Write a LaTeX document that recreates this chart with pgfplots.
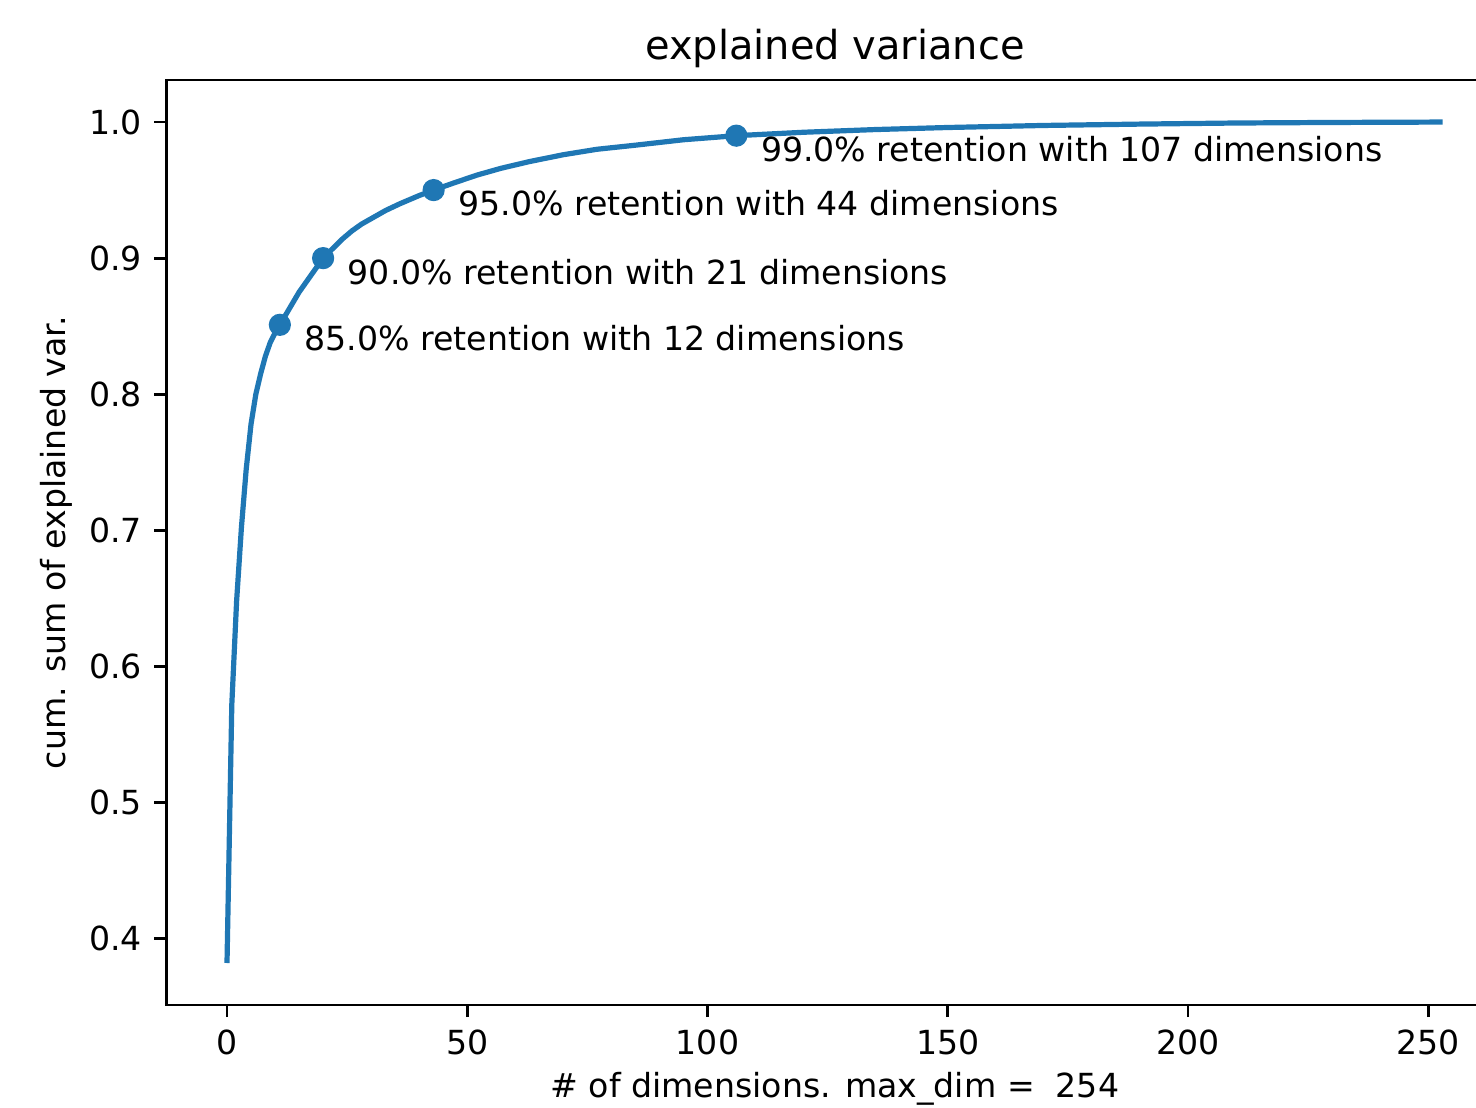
\documentclass[border=0pt]{standalone}
\usepackage{fontspec}
\setmainfont{DejaVu Sans}
\usepackage{pgfplots}
\pgfplotsset{compat=1.18}
\definecolor{mplblue}{HTML}{1F77B4}

\begin{document}
\begin{tikzpicture}
\begin{axis}[
    scale only axis,
    width=385.1pt, height=266.4pt,
    xmin=-12.65, xmax=265.65,
    ymin=0.3511, ymax=1.0309,
    xtick={0,50,100,150,200,250},
    ytick={0.4,0.5,0.6,0.7,0.8,0.9,1.0},
    yticklabel={\pgfmathprintnumber[fixed,fixed zerofill,precision=1]{\tick}},
    /pgf/number format/assume math mode=true,
    tick align=outside, tick pos=left,
    major tick length=3.5pt,
    every tick/.style={black, line width=0.8pt},
    axis line style={line width=0.8pt},
    ticklabel style={font=\fontsize{9.55}{11}\selectfont},
    title={explained variance},
    every axis title shift=0pt,
    title style={at={(axis description cs:0.5,1)}, anchor=base, yshift=6pt,
                 font=\fontsize{11.5}{13}\selectfont},
    xlabel={\# of dimensions. max\_dim = \ 254},
    xlabel style={at={(axis description cs:0.5,0)}, anchor=center, yshift=-24pt,
                  font=\fontsize{9.55}{11}\selectfont},
    ylabel={cum. sum of explained var.},
    ylabel style={at={(axis description cs:0,0.5)}, anchor=center, rotate=0,
                  yshift=31.5pt, font=\fontsize{9.55}{11}\selectfont},
]
% cumulative explained variance
\addplot[mplblue, line width=1.5pt] coordinates {
    (0,0.382) (1,0.572) (2,0.648) (3,0.702) (4,0.745) (5,0.778)
    (6,0.800) (7,0.815) (8,0.828) (9,0.838) (10,0.845) (11,0.851)
    (12,0.857) (13,0.863) (14,0.869) (15,0.875) (16,0.880) (17,0.885)
    (18,0.890) (19,0.895) (20,0.900) (22,0.907) (24,0.914) (26,0.920)
    (28,0.925) (30,0.929) (33,0.935) (36,0.940) (40,0.946) (43,0.950)
    (47,0.955) (52,0.961) (57,0.966) (63,0.971) (70,0.976) (77,0.980)
    (85,0.983) (95,0.987) (106,0.990) (120,0.9925) (135,0.9945)
    (150,0.996) (170,0.9975) (190,0.9985) (210,0.9993) (230,0.9997)
    (253,1.000)
};
% retention thresholds
\addplot[only marks, mark=*, mark size=3pt, mplblue] coordinates {
    (11,0.851) (20,0.900) (43,0.950) (106,0.990)
};
\node[anchor=north west, inner sep=0pt, font=\fontsize{9.55}{11}\selectfont]
    at (axis cs:16,0.851) {85.0\% retention with 12 dimensions};
\node[anchor=north west, inner sep=0pt, font=\fontsize{9.55}{11}\selectfont]
    at (axis cs:25,0.900) {90.0\% retention with 21 dimensions};
\node[anchor=north west, inner sep=0pt, font=\fontsize{9.55}{11}\selectfont]
    at (axis cs:48,0.950) {95.0\% retention with 44 dimensions};
\node[anchor=north west, inner sep=0pt, font=\fontsize{9.55}{11}\selectfont]
    at (axis cs:111,0.990) {99.0\% retention with 107 dimensions};
\end{axis}
\pgfresetboundingbox
\path[use as bounding box] (-47.87pt,-29.38pt) rectangle (377.2pt,289.44pt);
\end{tikzpicture}
\end{document}
